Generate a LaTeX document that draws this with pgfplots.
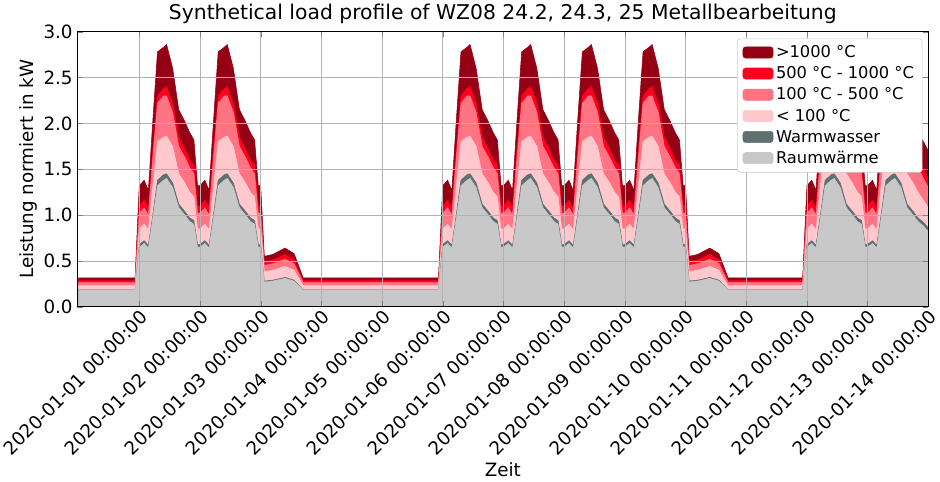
\documentclass[border=0pt]{standalone}
\usepackage{pgfplots}
\pgfplotsset{compat=1.18}
\usepackage{pgfplotstable}
\usepackage{fontspec}
\setmainfont{DejaVu Sans}
\definecolor{c1}{RGB}{150,0,20}
\definecolor{c2}{RGB}{255,0,30}
\definecolor{c3}{RGB}{255,115,130}
\definecolor{c4}{RGB}{255,200,205}
\definecolor{c5}{RGB}{95,112,112}
\definecolor{c6}{RGB}{200,200,200}
\pgfplotstableread{
x g w a b c d
-1.00 .18 .185 .23 .265 .285 .315
-0.07 .18 .185 .23 .265 .285 .315
0.00 .65 .68 .85 1.02 1.10 1.32
0.08 .69 .72 .90 1.08 1.16 1.38
0.15 .64 .67 .84 1.00 1.08 1.27
0.22 .95 .99 1.30 1.60 1.68 2.00
0.30 1.32 1.38 1.80 2.22 2.30 2.78
0.40 1.38 1.44 1.85 2.30 2.38 2.83
0.45 1.40 1.45 1.86 2.30 2.40 2.86
0.55 1.30 1.35 1.75 2.12 2.22 2.60
0.65 1.08 1.12 1.45 1.75 1.85 2.15
0.75 1.00 1.04 1.35 1.63 1.72 2.02
0.83 .93 .97 1.25 1.52 1.60 1.90
0.90 .90 .94 1.20 1.45 1.55 1.82
0.96 .65 .68 .85 1.02 1.10 1.32
1.00 .65 .68 .85 1.02 1.10 1.32
1.08 .69 .72 .90 1.08 1.16 1.38
1.15 .64 .67 .84 1.00 1.08 1.27
1.22 .95 .99 1.30 1.60 1.68 2.00
1.30 1.32 1.38 1.80 2.22 2.30 2.78
1.40 1.38 1.44 1.85 2.30 2.38 2.83
1.45 1.40 1.45 1.86 2.30 2.40 2.86
1.55 1.30 1.35 1.75 2.12 2.22 2.60
1.65 1.08 1.12 1.45 1.75 1.85 2.15
1.75 1.00 1.04 1.35 1.63 1.72 2.02
1.83 .93 .97 1.25 1.52 1.60 1.90
1.90 .90 .94 1.20 1.45 1.55 1.82
1.96 .65 .68 .85 1.02 1.10 1.32
2.00 .65 .68 .85 1.02 1.10 1.32
2.06 .27 .28 .38 .45 .49 .55
2.20 .28 .29 .40 .47 .51 .57
2.40 .31 .32 .44 .52 .57 .64
2.55 .28 .29 .40 .47 .51 .58
2.70 .18 .185 .23 .265 .285 .315
4.93 .18 .185 .23 .265 .285 .315
5.00 .65 .68 .85 1.02 1.10 1.32
5.08 .69 .72 .90 1.08 1.16 1.38
5.15 .64 .67 .84 1.00 1.08 1.27
5.22 .95 .99 1.30 1.60 1.68 2.00
5.30 1.32 1.38 1.80 2.22 2.30 2.78
5.40 1.38 1.44 1.85 2.30 2.38 2.83
5.45 1.40 1.45 1.86 2.30 2.40 2.86
5.55 1.30 1.35 1.75 2.12 2.22 2.60
5.65 1.08 1.12 1.45 1.75 1.85 2.15
5.75 1.00 1.04 1.35 1.63 1.72 2.02
5.83 .93 .97 1.25 1.52 1.60 1.90
5.90 .90 .94 1.20 1.45 1.55 1.82
5.96 .65 .68 .85 1.02 1.10 1.32
6.00 .65 .68 .85 1.02 1.10 1.32
6.08 .69 .72 .90 1.08 1.16 1.38
6.15 .64 .67 .84 1.00 1.08 1.27
6.22 .95 .99 1.30 1.60 1.68 2.00
6.30 1.32 1.38 1.80 2.22 2.30 2.78
6.40 1.38 1.44 1.85 2.30 2.38 2.83
6.45 1.40 1.45 1.86 2.30 2.40 2.86
6.55 1.30 1.35 1.75 2.12 2.22 2.60
6.65 1.08 1.12 1.45 1.75 1.85 2.15
6.75 1.00 1.04 1.35 1.63 1.72 2.02
6.83 .93 .97 1.25 1.52 1.60 1.90
6.90 .90 .94 1.20 1.45 1.55 1.82
6.96 .65 .68 .85 1.02 1.10 1.32
7.00 .65 .68 .85 1.02 1.10 1.32
7.08 .69 .72 .90 1.08 1.16 1.38
7.15 .64 .67 .84 1.00 1.08 1.27
7.22 .95 .99 1.30 1.60 1.68 2.00
7.30 1.32 1.38 1.80 2.22 2.30 2.78
7.40 1.38 1.44 1.85 2.30 2.38 2.83
7.45 1.40 1.45 1.86 2.30 2.40 2.86
7.55 1.30 1.35 1.75 2.12 2.22 2.60
7.65 1.08 1.12 1.45 1.75 1.85 2.15
7.75 1.00 1.04 1.35 1.63 1.72 2.02
7.83 .93 .97 1.25 1.52 1.60 1.90
7.90 .90 .94 1.20 1.45 1.55 1.82
7.96 .65 .68 .85 1.02 1.10 1.32
8.00 .65 .68 .85 1.02 1.10 1.32
8.08 .69 .72 .90 1.08 1.16 1.38
8.15 .64 .67 .84 1.00 1.08 1.27
8.22 .95 .99 1.30 1.60 1.68 2.00
8.30 1.32 1.38 1.80 2.22 2.30 2.78
8.40 1.38 1.44 1.85 2.30 2.38 2.83
8.45 1.40 1.45 1.86 2.30 2.40 2.86
8.55 1.30 1.35 1.75 2.12 2.22 2.60
8.65 1.08 1.12 1.45 1.75 1.85 2.15
8.75 1.00 1.04 1.35 1.63 1.72 2.02
8.83 .93 .97 1.25 1.52 1.60 1.90
8.90 .90 .94 1.20 1.45 1.55 1.82
8.96 .65 .68 .85 1.02 1.10 1.32
9.00 .65 .68 .85 1.02 1.10 1.32
9.06 .27 .28 .38 .45 .49 .55
9.20 .28 .29 .40 .47 .51 .57
9.40 .31 .32 .44 .52 .57 .64
9.55 .28 .29 .40 .47 .51 .58
9.70 .18 .185 .23 .265 .285 .315
10.93 .18 .185 .23 .265 .285 .315
11.00 .65 .68 .85 1.02 1.10 1.32
11.08 .69 .72 .90 1.08 1.16 1.38
11.15 .64 .67 .84 1.00 1.08 1.27
11.22 .95 .99 1.30 1.60 1.68 2.00
11.30 1.32 1.38 1.80 2.22 2.30 2.78
11.40 1.38 1.44 1.85 2.30 2.38 2.83
11.45 1.40 1.45 1.86 2.30 2.40 2.86
11.55 1.30 1.35 1.75 2.12 2.22 2.60
11.65 1.08 1.12 1.45 1.75 1.85 2.15
11.75 1.00 1.04 1.35 1.63 1.72 2.02
11.83 .93 .97 1.25 1.52 1.60 1.90
11.90 .90 .94 1.20 1.45 1.55 1.82
11.96 .65 .68 .85 1.02 1.10 1.32
12.00 .65 .68 .85 1.02 1.10 1.32
12.08 .69 .72 .90 1.08 1.16 1.38
12.15 .64 .67 .84 1.00 1.08 1.27
12.22 .95 .99 1.30 1.60 1.68 2.00
12.30 1.32 1.38 1.80 2.22 2.30 2.78
12.40 1.38 1.44 1.85 2.30 2.38 2.83
12.45 1.40 1.45 1.86 2.30 2.40 2.86
12.55 1.30 1.35 1.75 2.12 2.22 2.60
12.65 1.08 1.12 1.45 1.75 1.85 2.15
12.75 1.00 1.04 1.35 1.63 1.72 2.02
12.83 .93 .97 1.25 1.52 1.60 1.90
12.92 .88 .92 1.16 1.40 1.50 1.80
13.00 .82 .86 1.08 1.30 1.40 1.70
}\data
\begin{document}
\begin{tikzpicture}
\begin{axis}[
  scale only axis, width=628pt, height=203pt,
  xmin=-1.02, xmax=13, ymin=0, ymax=3,
  axis on top,
  grid=major, grid style={gray!60, line width=0.5pt},
  xtick={0,...,13},
  xticklabels={2020-01-01 00:00:00,2020-01-02 00:00:00,2020-01-03 00:00:00,2020-01-04 00:00:00,2020-01-05 00:00:00,2020-01-06 00:00:00,2020-01-07 00:00:00,2020-01-08 00:00:00,2020-01-09 00:00:00,2020-01-10 00:00:00,2020-01-11 00:00:00,2020-01-12 00:00:00,2020-01-13 00:00:00,2020-01-14 00:00:00},
  xticklabel style={rotate=45, anchor=north east, font=\fontsize{13.5}{14}\selectfont, inner sep=1pt},
  ytick={0,0.5,...,3}, yticklabel style={font=\fontsize{13.5}{14}\selectfont},
  /pgf/number format/assume math mode=true,
  yticklabel={\pgfmathprintnumber[fixed,fixed zerofill,precision=1]{\tick}},
  xlabel={Zeit}, ylabel={Leistung normiert in kW},
  label style={font=\fontsize{13.5}{15}\selectfont},
  ylabel style={yshift=-2pt},
  title={Synthetical load profile of WZ08 24.2, 24.3, 25 Metallbearbeitung},
  title style={font=\fontsize{15}{17}\selectfont, yshift=-4pt},
  legend style={at={(0.993,0.975)}, anchor=north east, font=\fontsize{12}{14}\selectfont, draw=gray!40, fill=white, rounded corners=2pt, row sep=1.2pt, inner xsep=4pt, inner ysep=3pt},
  legend cell align=left,
  area legend,
  legend image code/.code={\fill[#1] (0cm,-0.14cm) rectangle (0.78cm,0.15cm);},
]
\addplot[fill=c1, draw=c1] table[x=x,y=d]{\data} \closedcycle;
\addplot[fill=c2, draw=c2] table[x=x,y=c]{\data} \closedcycle;
\addplot[fill=c3, draw=c3] table[x=x,y=b]{\data} \closedcycle;
\addplot[fill=c4, draw=c4] table[x=x,y=a]{\data} \closedcycle;
\addplot[fill=c5, draw=c5] table[x=x,y=w]{\data} \closedcycle;
\addplot[fill=c6, draw=c6] table[x=x,y=g]{\data} \closedcycle;
\legend{{>1000 °C},{500 °C - 1000 °C},{100 °C - 500 °C},{< 100 °C},Warmwasser,Raumwärme}
\node[anchor=south west, font=\fontsize{7.5}{8}\selectfont, inner sep=1pt] at (rel axis cs:0,1) {1e6};
\end{axis}
\end{tikzpicture}
\end{document}
